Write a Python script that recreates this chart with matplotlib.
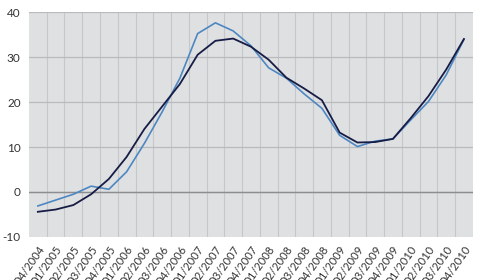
import matplotlib
matplotlib.use("Agg")
import matplotlib.pyplot as plt
import matplotlib.transforms as mtransforms
import numpy as np

# quarters Q4/2004 .. Q4/2010
quarters = ["Q4/2004",
            "Q1/2005", "Q2/2005", "Q3/2005", "Q4/2005",
            "Q1/2006", "Q2/2006", "Q3/2006", "Q4/2006",
            "Q1/2007", "Q2/2007", "Q3/2007", "Q4/2007",
            "Q1/2008", "Q2/2008", "Q3/2008", "Q4/2008",
            "Q1/2009", "Q2/2009", "Q3/2009", "Q4/2009",
            "Q1/2010", "Q2/2010", "Q3/2010", "Q4/2010"]

series_dark = [-4.4, -3.9, -2.9, -0.5, 2.9, 7.8, 14.0, 19.0, 24.0, 30.5, 33.6, 34.1,
               32.3, 29.4, 25.4, 23.0, 20.4, 13.2, 11.0, 11.1, 11.8, 16.4, 21.3, 27.2, 34.0]
series_light = [-3.1, -1.8, -0.5, 1.3, 0.6, 4.5, 10.8, 17.8, 25.3, 35.2, 37.6, 35.8,
                32.5, 27.6, 25.3, 21.8, 18.6, 12.6, 10.1, 11.3, 11.8, 16.0, 20.1, 26.0, 33.9]

yticks = [-10, 0, 10, 20, 30, 40]

plt.rcParams['font.family'] = ['Lato', 'DejaVu Sans']

fig = plt.figure(figsize=(4.8, 2.8), dpi=100)
ax = fig.add_axes([0.0604, 0.1536, 0.9246, 0.8035])
ax.set_facecolor('#dfe0e2')

x = np.arange(len(quarters))
ax.set_xlim(-0.5, len(quarters) - 0.5)
ax.set_ylim(-10, 40)

# vertical grid at category boundaries
for b in np.arange(0.5, len(quarters) - 0.5, 1):
    ax.axvline(b, color='#c6c7ca', lw=0.8, zorder=1)
for t in yticks[1:]:
    ax.axhline(t, color='#b9babd', lw=0.9, zorder=1)
ax.axhline(0, color='#8c8d90', lw=1.0, zorder=2)

ax.plot(x, series_light, color='#4d87c2', lw=1.2, zorder=3)
ax.plot(x, series_dark, color='#161c45', lw=1.3, zorder=4)

for s in ax.spines.values():
    s.set_visible(False)

ax.set_yticks(yticks)
ax.set_yticklabels([str(t) for t in yticks], fontsize=8.5, color='#333333')
ax.set_xticks(x)
ax.set_xticklabels(quarters, fontsize=8, color='#333333', rotation=55,
                   ha='right', va='center', rotation_mode='anchor')
ax.tick_params(axis='both', length=0)
ax.tick_params(axis='y', pad=6)
ax.tick_params(axis='x', pad=7)

shift = mtransforms.ScaledTranslation(3 / 72, 0, fig.dpi_scale_trans)
for lab in ax.get_xticklabels():
    lab.set_transform(lab.get_transform() + shift)

fig.savefig('out.png', dpi=100)
